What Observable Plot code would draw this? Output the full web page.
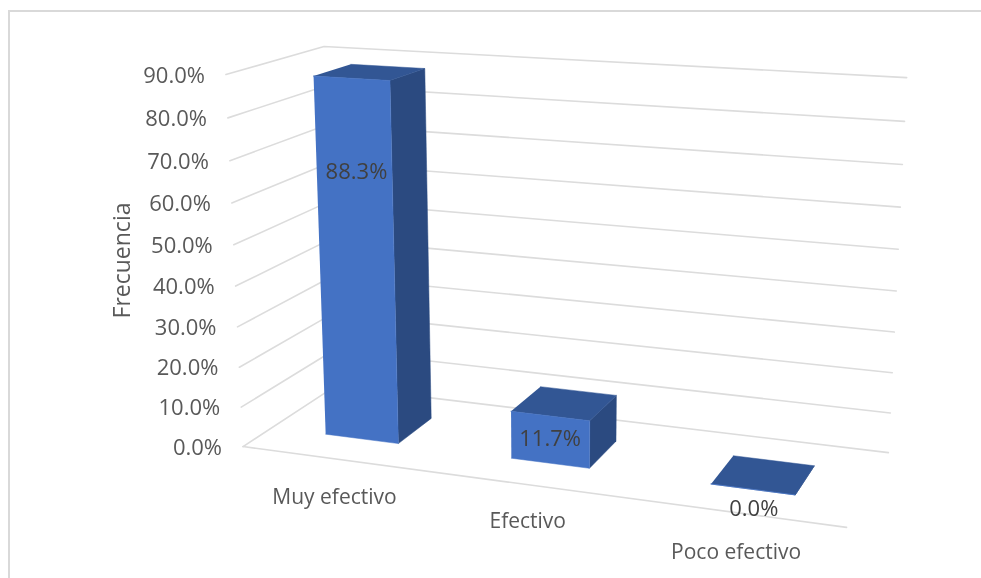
<!DOCTYPE html>
<html>
<head>
<meta charset="utf-8">
<script src="https://cdn.jsdelivr.net/npm/d3@7"></script>
<script src="https://cdn.jsdelivr.net/npm/@observablehq/plot@0.6"></script>
<style>
  html, body { margin: 0; padding: 0; background: #fff; overflow: hidden; }
  #chart { position: relative; width: 981px; height: 578px; }
  #chart svg { display: block; position: absolute; left: 0; top: 0; filter: blur(0.35px); background: transparent; }
  #frame { position: absolute; left: 8px; top: 10px; right: 0; bottom: 0; border-left: 2px solid #d9d9d9; border-top: 2px solid #d9d9d9; }
</style>
</head>
<body>
<div id="chart"><div id="frame"></div></div>
<script>
// ---- chart data ----
const categories = ["Muy efectivo", "Efectivo", "Poco efectivo"];
const values = [88.3, 11.7, 0.0];
const valueLabels = ["88.3%", "11.7%", "0.0%"];
const ticks = [0, 10, 20, 30, 40, 50, 60, 70, 80, 90];
const axisTitle = "Frecuencia";

// ---- layout of the 3D view ----
const barU = [0.3, 0.7];            // bar span inside a category
const barD = [0.3, 0.7];            // bar span along the depth
const labelDx = [5, 0, 1];
const labelDy = [94, 23, 20];
const catLabelDx = [0, 0, 0];
const catLabelDy = [38, 37, 40];

// camera calibration: [category pos, depth, value, screen x, screen y]
const calibration = [
  [0, 0, 0, 243, 446],
  [0, 0, 90, 225, 74],
  [0, 1, 0, 334, 386],
  [0, 1, 90, 324, 46],
  [3, 1, 0, 888, 452],
  [3, 1, 90, 906, 77],
  [3, 0, 0, 846, 527],
  [3, 1, 80, 904, 121],
  [3, 1, 70, 902, 164]
];

// least-squares projective camera fitted to the calibration
function solve(A, b) {
  const n = b.length, M = A.map((r, i) => [...r, b[i]]);
  for (let i = 0; i < n; i++) {
    let p = i;
    for (let k = i + 1; k < n; k++) if (Math.abs(M[k][i]) > Math.abs(M[p][i])) p = k;
    [M[i], M[p]] = [M[p], M[i]];
    for (let k = i + 1; k < n; k++) {
      const f = M[k][i] / M[i][i];
      for (let j = i; j <= n; j++) M[k][j] -= f * M[i][j];
    }
  }
  const x = new Array(n).fill(0);
  for (let i = n - 1; i >= 0; i--) {
    let s = M[i][n];
    for (let j = i + 1; j < n; j++) s -= M[i][j] * x[j];
    x[i] = s / M[i][i];
  }
  return x;
}
const cam = (() => {
  const rows = [], rhs = [];
  for (const [u, d, v, px, py] of calibration) {
    const U = u / 3, V = v / 90, x = px / 1000, y = py / 1000;
    rows.push([U, d, V, 1, 0, 0, 0, 0, -x * U, -x * d, -x * V]); rhs.push(x);
    rows.push([0, 0, 0, 0, U, d, V, 1, -y * U, -y * d, -y * V]); rhs.push(y);
  }
  const N = 11;
  const A = d3.range(N).map(i => d3.range(N).map(j => d3.sum(rows, r => r[i] * r[j])));
  const b = d3.range(N).map(i => d3.sum(rows, (r, k) => r[i] * rhs[k]));
  return solve(A, b);
})();
function project(u, d, v) {
  const U = u / 3, V = v / 90, m = cam;
  const w = m[8] * U + m[9] * d + m[10] * V + 1;
  return [
    1000 * (m[0] * U + m[1] * d + m[2] * V + m[3]) / w,
    1000 * (m[4] * U + m[5] * d + m[6] * V + m[7]) / w
  ];
}
const pt = (id, u, d, v) => { const [x, y] = project(u, d, v); return {id, x, y}; };

// ---- derived geometry ----
const wallLines = ticks.flatMap(t => [pt(t, 0, 0, t), pt(t, 0, 1, t), pt(t, 3, 1, t)]);
const floorEdge = [pt("f", 0, 0, 0), pt("f", 3, 0, 0)];
const front = [], side = [], top_ = [];
values.forEach((val, i) => {
  const u0 = i + barU[0], u1 = i + barU[1], d0 = barD[0], d1 = barD[1];
  front.push(pt(i, u0, d0, 0), pt(i, u1, d0, 0), pt(i, u1, d0, val), pt(i, u0, d0, val));
  side.push(pt(i, u1, d0, 0), pt(i, u1, d1, 0), pt(i, u1, d1, val), pt(i, u1, d0, val));
  top_.push(pt(i, u0, d0, val), pt(i, u1, d0, val), pt(i, u1, d1, val), pt(i, u0, d1, val));
});
const tickRows = ticks.map(t => { const [x, y] = project(0, 0, t); return {x, y, label: t.toFixed(1) + "%"}; });
const catRows = categories.map((c, i) => {
  const [x, y] = project(i + 0.5, 0, 0);
  return {x: x + catLabelDx[i], y: y + catLabelDy[i], label: c};
});
const valRows = values.map((val, i) => {
  const [x, y] = project(i + 0.5, barD[0], val);
  return {x: x + labelDx[i], y: y + labelDy[i], label: valueLabels[i]};
});
const titlePos = (() => { const [x, y] = project(0, 0, 45); return [{x: x - 112, y: y - 5, label: axisTitle}]; })();

const font = "'Open Sans', 'Noto Sans', sans-serif";
const grid = {x: "x", y: "y", z: "id", stroke: "#dcdcdc", strokeWidth: 1.6, curve: "linear"};
const face = fill => ({x: "x", y: "y", z: "id", fill, stroke: fill, strokeWidth: 0.5, curve: "linear"});

const chart = Plot.plot({
  width: 981, height: 578,
  margin: 0,
  style: {background: "transparent", fontFamily: font},
  x: {domain: [0, 981], range: [0, 981], axis: null},
  y: {domain: [0, 578], range: [0, 578], axis: null},
  marks: [
    Plot.line(wallLines, grid),
    Plot.line(floorEdge, grid),
    Plot.line(side, face("#2b4a80")),
    Plot.line(top_, face("#325694")),
    Plot.line(front, face("#4472c4")),
    Plot.text(tickRows, {x: "x", y: "y", text: "label", dx: -21, dy: 1, textAnchor: "end", fontSize: 22, fill: "#595959"}),
    Plot.text(catRows, {x: "x", y: "y", text: "label", fontSize: 21, fill: "#595959"}),
    Plot.text(valRows, {x: "x", y: "y", text: "label", fontSize: 22, fill: "#404040"}),
    Plot.text(titlePos, {x: "x", y: "y", text: "label", rotate: -90, fontSize: 23, fill: "#595959"})
  ]
});
document.getElementById("chart").appendChild(chart);
</script>
</body>
</html>
